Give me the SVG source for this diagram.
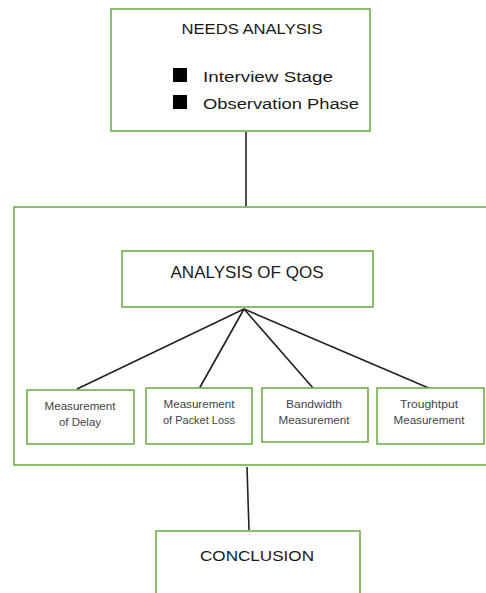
<svg xmlns="http://www.w3.org/2000/svg" width="486" height="593" viewBox="0 0 486 593">
<style>
.box{fill:#fff;stroke:#70AD47;stroke-width:1.6}
.ln{stroke:#222;stroke-width:1.6;fill:none}
.t{font-family:"Liberation Sans",Arial,sans-serif;fill:#1a1a1a}
.big{font-size:14.5px;text-anchor:middle}
.mid{font-size:14px}
.sm{font-size:10px;text-anchor:middle;fill:#444}
</style>
<rect width="486" height="593" fill="#fff"/>
<g id="qos-group">
<rect class="box" x="14" y="207" width="490" height="258"/>
</g>
<g id="connectors">
<line class="ln" x1="246" y1="132" x2="246" y2="206"/>
<line class="ln" x1="244" y1="309" x2="77" y2="389"/>
<line class="ln" x1="244" y1="309" x2="199" y2="389"/>
<line class="ln" x1="244" y1="309" x2="313" y2="388"/>
<line class="ln" x1="244" y1="309" x2="431" y2="389"/>
<line class="ln" x1="247" y1="467" x2="249" y2="530"/>
</g>
<g id="needs-analysis">
<rect class="box" x="111" y="9" width="259" height="122"/>
<text class="t big" x="252" y="34" textLength="141" lengthAdjust="spacingAndGlyphs">NEEDS ANALYSIS</text>
<rect x="173" y="68" width="14" height="14" fill="#000"/>
<rect x="173" y="95" width="14" height="14" fill="#000"/>
<text class="t mid" x="203" y="82" textLength="130" lengthAdjust="spacingAndGlyphs">Interview Stage</text>
<text class="t mid" x="203" y="109" textLength="156" lengthAdjust="spacingAndGlyphs">Observation Phase</text>
</g>
<g id="analysis-of-qos">
<rect class="box" x="122" y="251" width="251" height="56"/>
<text class="t big" x="247" y="278" textLength="153" lengthAdjust="spacingAndGlyphs" style="font-size:16.5px">ANALYSIS OF QOS</text>
</g>
<g id="delay">
<rect class="box" x="27" y="390" width="107" height="54"/>
<text class="t sm" x="80" y="410" textLength="71" lengthAdjust="spacingAndGlyphs">Measurement</text>
<text class="t sm" x="80" y="426" textLength="42" lengthAdjust="spacingAndGlyphs">of Delay</text>
</g>
<g id="packet-loss">
<rect class="box" x="146" y="388" width="106" height="56"/>
<text class="t sm" x="199" y="408" textLength="71" lengthAdjust="spacingAndGlyphs">Measurement</text>
<text class="t sm" x="199" y="424" textLength="72" lengthAdjust="spacingAndGlyphs">of Packet Loss</text>
</g>
<g id="bandwidth">
<rect class="box" x="262" y="388" width="106" height="54"/>
<text class="t sm" x="314" y="408" textLength="56" lengthAdjust="spacingAndGlyphs">Bandwidth</text>
<text class="t sm" x="314" y="424" textLength="71" lengthAdjust="spacingAndGlyphs">Measurement</text>
</g>
<g id="throughput">
<rect class="box" x="377" y="388" width="107" height="56"/>
<text class="t sm" x="429" y="408" textLength="58" lengthAdjust="spacingAndGlyphs">Troughtput</text>
<text class="t sm" x="429" y="424" textLength="71" lengthAdjust="spacingAndGlyphs">Measurement</text>
</g>
<g id="conclusion">
<rect class="box" x="156" y="531" width="204" height="80"/>
<text class="t big" x="257" y="561" textLength="114" lengthAdjust="spacingAndGlyphs">CONCLUSION</text>
</g>
</svg>
